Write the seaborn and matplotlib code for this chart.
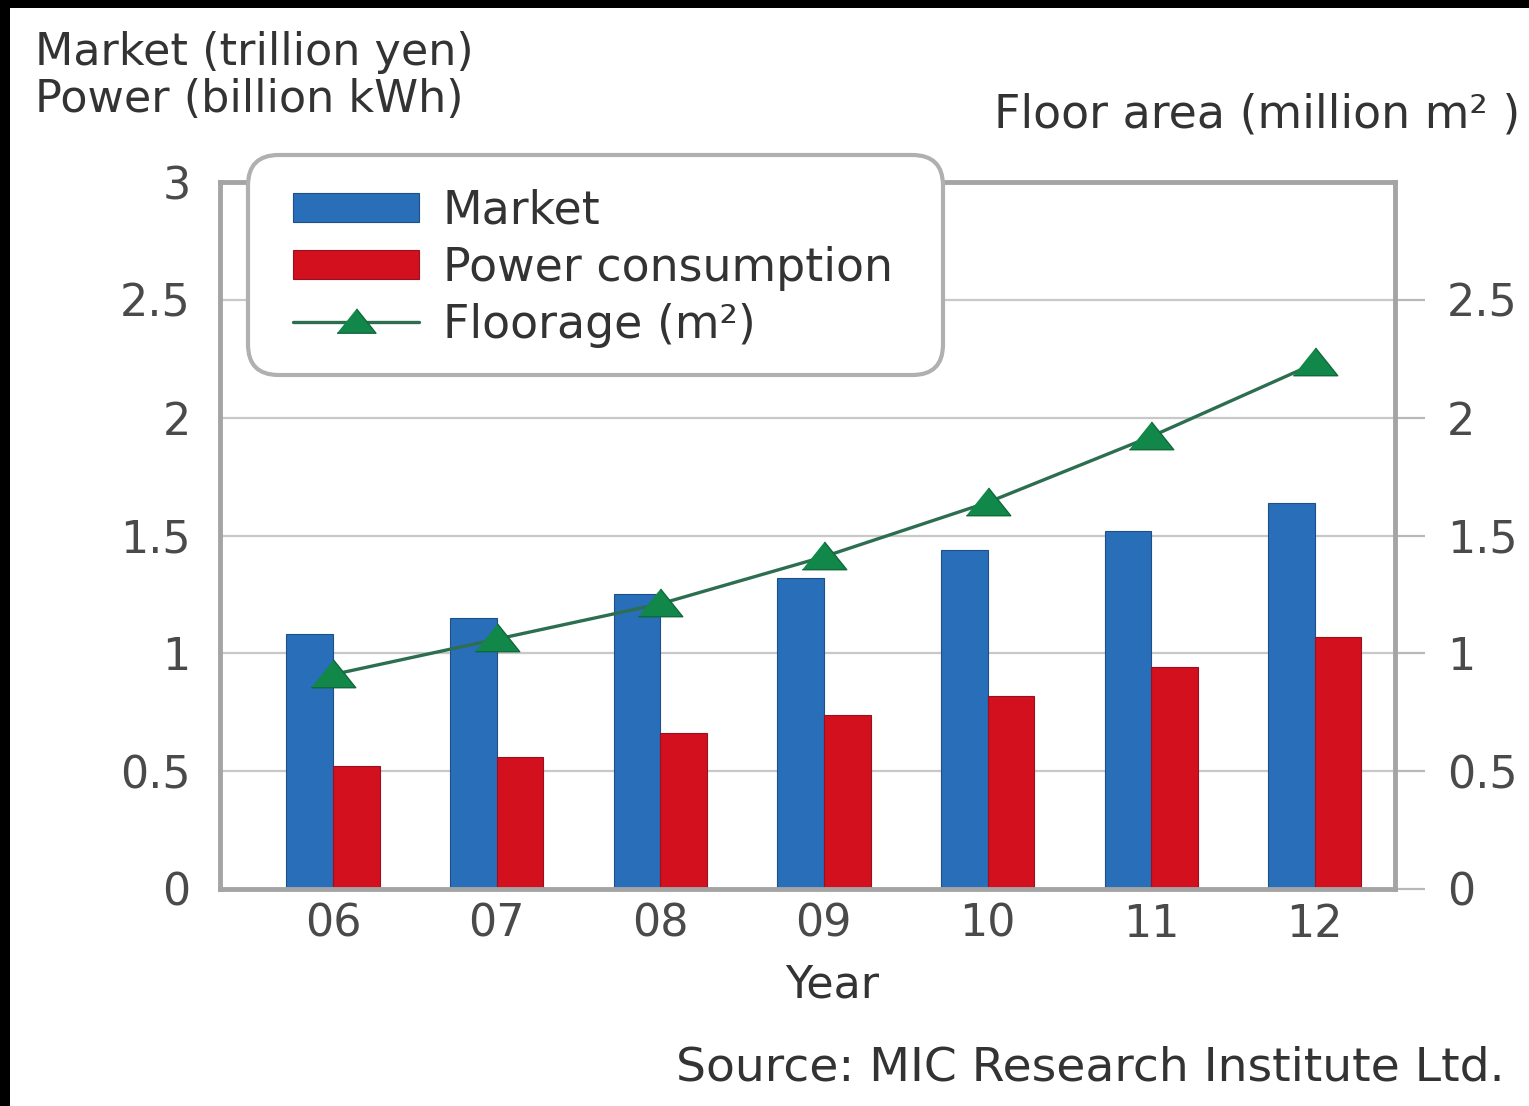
import numpy as np
import pandas as pd
import matplotlib
matplotlib.use("Agg")
import matplotlib.pyplot as plt
from matplotlib.patches import FancyBboxPatch, Rectangle, Patch
from matplotlib.lines import Line2D
import seaborn as sns

# ---- data ----
years = ["06", "07", "08", "09", "10", "11", "12"]
market = [1.08, 1.15, 1.25, 1.32, 1.44, 1.52, 1.64]        # trillion yen
power = [0.52, 0.56, 0.66, 0.74, 0.82, 0.94, 1.07]         # billion kWh
floor_area = [0.91, 1.06, 1.21, 1.41, 1.64, 1.92, 2.23]    # million m2

series_names = ["Market", "Power consumption"]
line_name = "Floorage (m\u00b2)"

left_ticks = [0, 0.5, 1, 1.5, 2, 2.5, 3]
left_tick_labels = ["0", "0.5", "1", "1.5", "2", "2.5", "3"]
right_ticks = [0, 0.5, 1, 1.5, 2, 2.5]
right_tick_labels = ["0", "0.5", "1", "1.5", "2", "2.5"]

# ---- style ----
sns.set_style("white")
plt.rcParams["font.family"] = ["DejaVu Sans"]

BLUE = "#286EB9"
RED = "#D2101E"
GREEN_FILL = "#12874A"
GREEN_LINE = "#2D6E50"
GRID = "#c8c8c8"
SPINE = "#a4a4a4"
TEXT = "#333333"
TICKTXT = "#4a4a4a"
FS = 32

W, H = 1529, 1106
fig = plt.figure(figsize=(W / 100, H / 100), dpi=100)
fig.patch.set_facecolor("white")

ax = fig.add_axes([220 / W, 1 - 889 / H, 1175 / W, 707 / H])

df = pd.DataFrame({
    "year": years * 2,
    "value": market + power,
    "series": [series_names[0]] * len(years) + [series_names[1]] * len(years),
})
sns.barplot(data=df, x="year", y="value", hue="series",
            palette=[BLUE, RED], saturation=1, width=0.57, gap=0,
            edgecolor="#1f4f86", linewidth=0.8, legend=False, ax=ax)
# darker edge for the red bars
for bar in ax.patches[len(years):]:
    bar.set_edgecolor("#9a1020")

ax.set_xlim(-0.69, 6.49)
ax.set_ylim(0, 3)
ax.set_xlabel("")
ax.set_ylabel("")
ax.set_yticks(left_ticks)
ax.set_yticklabels(left_tick_labels)
ax.tick_params(axis="y", length=0, pad=21, labelsize=FS, labelcolor=TICKTXT)
ax.tick_params(axis="x", length=0, pad=10, labelsize=FS, labelcolor=TICKTXT)
ax.set_axisbelow(True)
ax.yaxis.grid(True, color=GRID, linewidth=1.6)
ax.xaxis.grid(False)
for side in ["top", "right"]:
    ax.spines[side].set_visible(False)
for side in ["left", "bottom"]:
    ax.spines[side].set_color(SPINE)
    ax.spines[side].set_linewidth(3.5)

# ---- floor area on the secondary axis ----
ax2 = ax.twinx()
tri = [(-1, -0.55), (1, -0.55), (0, 0.7)]
sns.lineplot(x=np.arange(len(years)), y=floor_area, ax=ax2,
             color=GREEN_LINE, linewidth=2.4, marker=tri, markersize=32,
             markerfacecolor=GREEN_FILL, markeredgecolor="#0e6a3a",
             markeredgewidth=1)
ax2.set_xlim(-0.69, 6.49)
ax2.set_ylim(0, 3)
ax2.set_ylabel("")
ax2.set_yticks(right_ticks)
ax2.set_yticklabels(right_tick_labels)
ax2.tick_params(axis="y", direction="out", length=21.6, width=1.6,
                color="#b8b8b8", pad=16, labelsize=FS, labelcolor=TICKTXT)
for side in ["left", "bottom"]:
    ax2.spines[side].set_visible(False)
for side in ["top", "right"]:
    ax2.spines[side].set_color(SPINE)
    ax2.spines[side].set_linewidth(3.5)

# ---- legend box ----
frame = FancyBboxPatch((248 / W, 1 - 375 / H), 695 / W, 220 / H,
                       boxstyle="round,pad=0,rounding_size=0.02",
                       mutation_aspect=W / H,
                       transform=fig.transFigure,
                       facecolor="white", edgecolor="#b0b0b0",
                       linewidth=3, zorder=4)
fig.add_artist(frame)

handles = [
    Patch(facecolor=BLUE, edgecolor="#1f4f86", linewidth=0.8),
    Patch(facecolor=RED, edgecolor="#9a1020", linewidth=0.8),
    Line2D([], [], color=GREEN_LINE, linewidth=2.4, marker=tri,
           markersize=28, markerfacecolor=GREEN_FILL,
           markeredgecolor="#0e6a3a", markeredgewidth=1),
]
leg = fig.legend(handles, series_names + [line_name],
                 loc="upper left", bbox_to_anchor=(293 / W, 1 - 189 / H),
                 bbox_transform=fig.transFigure, frameon=False,
                 fontsize=33, handlelength=2.75, handleheight=0.6,
                 handletextpad=0.52, labelspacing=0.26,
                 borderpad=0, borderaxespad=0, labelcolor=TEXT)
leg.set_zorder(5)

# ---- axis titles and source ----
fig.text(35 / W, 1 - 52 / H, "Market (trillion yen)", fontsize=FS,
         color=TEXT, ha="left", va="center")
fig.text(35 / W, 1 - 100 / H, "Power (billion kWh)", fontsize=FS,
         color=TEXT, ha="left", va="center")
fig.text(1520 / W, 1 - 115 / H, "Floor area (million m\u00b2 )", fontsize=33,
         color=TEXT, ha="right", va="center")
fig.text(832 / W, 1 - 985 / H, "Year", fontsize=FS, color=TEXT,
         ha="center", va="center")
fig.text(1505 / W, 1 - 1068 / H, "Source: MIC Research Institute Ltd.",
         fontsize=34, color=TEXT, ha="right", va="center")

# ---- dark edge strips ----
fig.add_artist(Rectangle((0, 1 - 8 / H), 1, 8 / H, transform=fig.transFigure,
                         facecolor="black", edgecolor="none", zorder=10))
fig.add_artist(Rectangle((0, 0), 10 / W, 1, transform=fig.transFigure,
                         facecolor="black", edgecolor="none", zorder=10))

fig.savefig("out.png", dpi=100)
